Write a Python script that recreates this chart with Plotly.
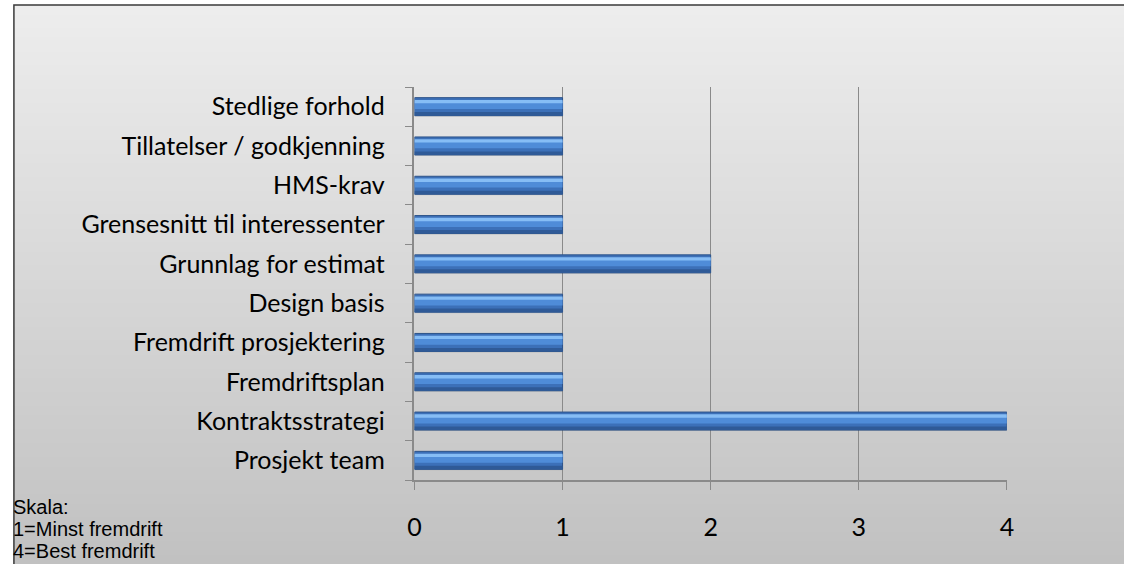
import plotly.graph_objects as go

categories = ["Prosjekt team", "Kontraktsstrategi", "Fremdriftsplan", "Fremdrift prosjektering",
              "Design basis", "Grunnlag for estimat", "Grensesnitt til interessenter",
              "HMS-krav", "Tillatelser / godkjenning", "Stedlige forhold"]
values = [1, 4, 1, 1, 1, 2, 1, 1, 1, 1]
x_ticks = [0, 1, 2, 3, 4]
note_lines = ["Skala:", "1=Minst fremdrift", "4=Best fremdrift"]

W, H = 1124, 564
fig = go.Figure()

def bar(width, offset, color, line=None, skip=True):
    fig.add_trace(go.Bar(
        y=categories, x=values, orientation="h", width=width, offset=offset,
        marker=dict(color=color, line=line or dict(width=0)),
        hoverinfo="skip" if skip else None))

bar(0.458, -0.255, "rgba(0,0,0,0.10)")                       # soft shadow
bar(0.458, -0.229, "#3c70b8", dict(color="#2d5389", width=1), skip=False)  # body
bar(0.09, -0.229, "#2f5a97")                                  # dark lower edge
bar(0.20, -0.06, "#4f8cd8")                                   # mid tone
bar(0.085, 0.085, "#86bdf5")                                  # highlight

def px(x):
    return x / W

def py(y):
    return 1 - y / H

shapes = []
n = 120
top = (0xed, 0xed, 0xed)
bot = (0xc1, 0xc1, 0xc1)
y_start = 5
for i in range(n):
    t = i / (n - 1)
    c = tuple(int(round(top[k] + (bot[k] - top[k]) * t)) for k in range(3))
    ya = y_start + (H - y_start) * i / n
    yb = y_start + (H - y_start) * (i + 1) / n + 1.5
    shapes.append(dict(type="rect", xref="paper", yref="paper", x0=px(7), x1=1.01,
                       y0=py(yb), y1=py(ya), layer="below",
                       fillcolor="rgb(%d,%d,%d)" % c, line=dict(width=0)))
shapes.append(dict(type="rect", xref="paper", yref="paper", x0=px(7), x1=1.01,
                   y0=-0.01, y1=py(5), layer="above", fillcolor="rgba(0,0,0,0)",
                   line=dict(color="#3a3a3a", width=1.5)))

annotations = []
for i, line in enumerate(note_lines):
    annotations.append(dict(text=line, xref="paper", yref="paper", x=px(4),
                            y=py(507 + i * 22), xanchor="left", yanchor="middle",
                            showarrow=False,
                            font=dict(family="Liberation Sans", size=20, color="#000")))

fig.update_layout(
    width=W, height=H,
    margin=dict(l=0, r=0, t=0, b=0),
    paper_bgcolor="white",
    plot_bgcolor="rgba(0,0,0,0)",
    showlegend=False,
    barmode="overlay",
    shapes=shapes,
    annotations=annotations,
    font=dict(family="Lato", size=25, color="#000"),
    xaxis=dict(domain=[px(412.6), px(1012.5)], range=[0, 4], tickvals=x_ticks,
               showgrid=True, gridcolor="#8a8a8a", gridwidth=1, zeroline=False,
               showline=True, linecolor="#8a8a8a", linewidth=1.5,
               ticks="outside", ticklen=8, tickcolor="#8a8a8a",
               ticklabelstandoff=16, tickfont=dict(size=25)),
    yaxis=dict(domain=[py(480), py(87)], categoryorder="array", categoryarray=categories,
               showline=True, linecolor="#8a8a8a", linewidth=1.5,
               ticks="outside", ticklen=8, tickcolor="#8a8a8a", tickson="boundaries",
               showgrid=False, ticklabelstandoff=23, tickfont=dict(size=25)),
)

fig.write_html("out.html", config={"displayModeBar": False},
               post_script="document.body.style.margin='0px';document.body.style.overflow='hidden';")
